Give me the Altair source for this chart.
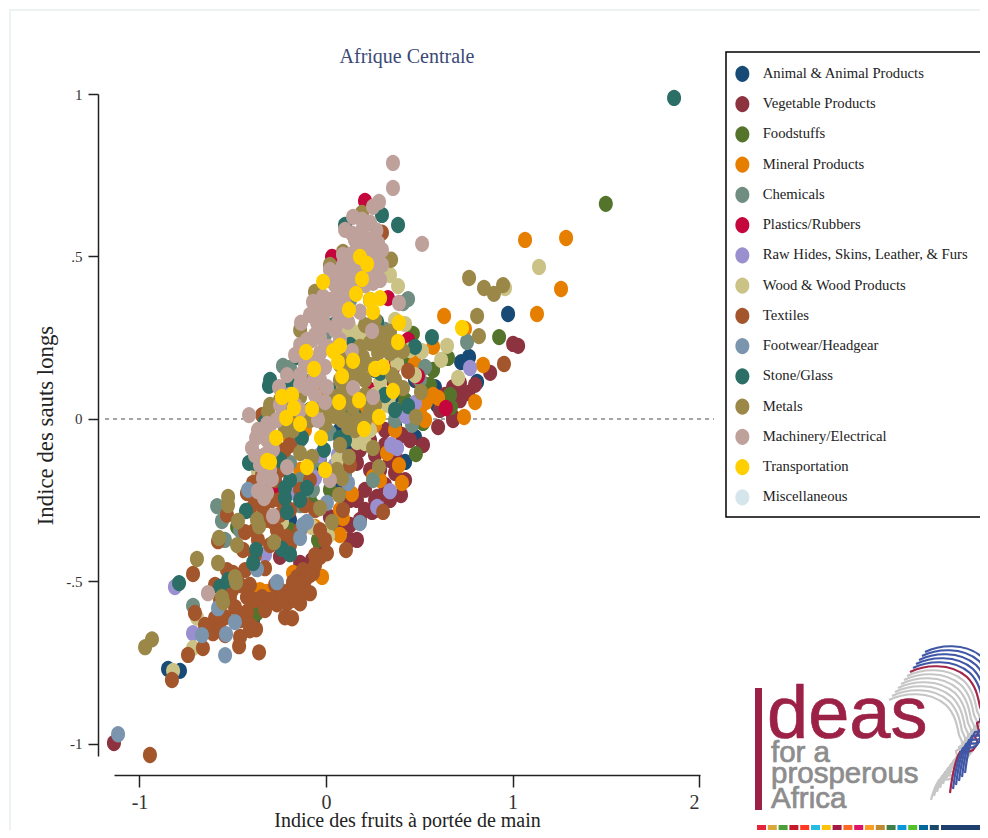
import altair as alt
import pandas as pd

CATEGORIES = ["Animal & Animal Products", "Vegetable Products", "Foodstuffs", "Mineral Products", "Chemicals",
              "Plastics/Rubbers", "Raw Hides, Skins, Leather, & Furs", "Wood & Wood Products", "Textiles",
              "Footwear/Headgear", "Stone/Glass", "Metals", "Machinery/Electrical", "Transportation", "Miscellaneous"]
COLORS = ["#184a76", "#8d323f", "#54742c", "#e67f00", "#6f8d80", "#c4063c", "#9a90d0", "#cbc285", "#a3552c",
          "#7c95ae", "#2a6e66", "#9b8849", "#bfa19b", "#ffcf00", "#d5e5ec"]

ANIMAL = [(-.847,-.769),(-.783,-.775),(-.391,-.618),(-.059,-.271),(.477,-.055),(.424,-.132),(.584,.098),(.595,.043),
          (.724,.175),(.767,.191),(.81,.114),(.976,.323),(-.139,-.003),(.075,-.034),(.247,.058),(-.30,-.157),
          (-.193,-.311),(.129,-.095),(.477,.12),(.37,-.018),(-.032,-.157),(.075,-.218),(.102,-.142),(.209,-.065),
          (.37,.074),(.263,.151)]
VEGETABLE = [(-1.137,-.997),(1.003,.231),(1.03,.225),(.88,.142),(.718,.08),(.681,.098),(.762,.08),(.681,.006),(.718,.058),
             (.718,.111),(.601,-.025),(.52,-.08),(.493,.12),(.166,-.372),(.129,-.372),(.402,-.234),(.247,-.286),(.274,-.24),
             (.166,-.135),(.37,-.166),(.407,-.049),(.681,-.003),(-.247,-.424),(-.139,-.443),(-.075,-.434),(.021,-.302),
             (.075,-.332),(.166,-.249),(.263,-.111),(.343,-.126),(.102,-.188),(.209,-.218),(.316,-.203),(.182,-.311),
             (.316,-.034),(.424,.012),(.531,.105),(.354,.12),(.29,-.28),(.236,-.157),(.129,-.249),
             (.102,-.157),(.155,-.111),(.236,-.065),(.316,-.08),(.37,-.111),(.29,-.157),(.424,-.188),(.343,-.249),
             (.209,-.28),(.129,-.326),(-.032,-.388),(.263,-.249),(.182,-.095),(.102,-.249),(.075,-.28),(.45,-.065),
             (.611,.028),(.638,.074),(.799,.105)]
FOODSTUFFS = [(1.50,.662),(.928,.252),(.654,.188),(.67,.037),(.52,-.012),(.482,-.108),(.466,.262),(.574,.151),(.359,.129),
              (-.37,-.597),(-.043,-.372),(-.477,-.332),(.038,-.348),(.665,.074),(.102,.012),(.29,.058),(.021,-.157),(.45,.181),
              (.075,-.111),(.021,-.218),(.37,.028),(.263,.074),(.424,.058),(.557,.105),(-.193,-.342),(-.086,-.249)]
MINERAL = [(1.067,.551),(1.287,.557),(1.26,.40),(1.131,.323),(.633,.317),(.745,.277),(.842,.166),(.799,.052),(.74,.006),
           (.574,.074),(.536,.052),(.601,.065),(.574,.222),(.477,.172),(.407,-.197),(.391,-.142),(.327,-.105),(-.021,-.486),
           (-.177,-.474),(-.418,-.52),(-.316,-.532),(.139,-.231),(.252,-.178),(.29,-.188),(.091,-.305),(-.059,-.332),
           (-.284,-.317),(-.257,-.52),(-.193,-.003),(-.032,.074),(-.113,-.034),(-.193,-.065),(.504,.028),(.531,-.003),
           (.182,.028),(.37,-.034),(.263,-.018),(-.139,-.157),(.075,-.28),(.075,-.357),(-.354,-.527)]
CHEMICALS = [(-.713,-.575),(-.584,-.268),(-.558,-.314),(-.231,.163),(-.193,.157),(.44,.369),(.413,.357),(.756,.237),(.531,.16),
             (.461,-.018),(.252,-.188),(-.139,-.188),(-.129,-.243),(-.07,-.218),(.021,-.043),(-.193,-.135),(.316,.274),
             (-.139,-.065),(-.032,-.126),(-.086,-.157),(-.247,-.218),(.102,-.172),(-.461,-.342),(-.542,-.372),(-.139,-.265),
             (.075,-.142),(.37,-.003),(.504,.12),(.155,.459),(-.005,.259),(.129,.366)]
PLASTICS = [(.209,.671),(.032,.499),(-.268,-.228),(.493,.132),(.643,.034),(.332,.372),(.059,.289),(.327,.234),(.44,.243),
            (.37,.166),(.236,.089)]
HIDES = [(-.81,-.517),(-.713,-.659),(-.434,-.609),(-.177,-.225),(-.059,-.182),(.064,-.111),(-.327,-.418),(.343,-.222),
         (.274,-.271),(.349,-.08),(.381,-.089),(.477,.049),(.429,.009),(.772,.157),(-.032,-.111),(.048,-.142),(-.086,-.188),
         (.075,-.08)]
WOOD = [(1.142,.468),(.96,.403),(-.82,-.775),(-.713,-.705),(-.692,-.611),(.011,-.36),(-.236,-.317),(-.365,-.163),(.064,-.126),
        (.166,-.071),(.209,-.074),(.332,.043),(-.075,-.332),(.386,.409),(.343,.443),(.139,.252),(.649,.225),(.617,.182),
        (.708,.126),(.515,.209),(.424,.292),(.29,.114),(.381,.172),(.182,.268),(.123,.289),(.075,.258),(.338,.046),
        (.263,.228),(.343,.074),(.209,.243),(.129,.212),(.075,.212),(.102,.228),(.263,.074),(.236,-.034),(.182,-.065),
        (-.032,.012),(.477,.135),(.45,.212),(.37,.305)]
TEXTILES = [(-.944,-1.034),(-.826,-.803),(-.74,-.726),(-.66,-.705),(-.606,-.659),(-.713,-.477),(-.703,-.597),(-.531,-.295),
            (-.579,-.376),(-.434,-.348),(-.424,-.228),(-.193,-.08),(-.391,-.197),(-.338,-.271),(-.209,-.363),(-.263,-.342),
            (-.445,-.403),(-.327,-.459),(-.531,-.465),(-.499,-.474),(-.515,-.548),(-.424,-.548),(-.343,-.548),(-.424,-.594),
            (-.488,-.579),(-.595,-.613),(-.541,-.61),(-.375,-.647),(-.461,-.671),(-.466,-.699),(-.359,-.718),(-.568,-.65),
            (-.461,-.619),(-.381,-.557),(-.273,-.511),(-.22,-.557),(.005,-.413),(-.032,-.425),(-.07,-.474),(-.123,-.465),
            (-.155,-.487),(-.193,-.527),(-.123,-.527),(-.086,-.536),(-.177,-.502),(-.139,-.567),(-.263,-.57),(-.209,-.567),
            (-.22,-.61),(-.182,-.613),(-.086,-.48),(-.059,-.45),(-.166,-.557),(.107,-.403),(.306,-.286),(.091,-.28),
            (.129,-.142),(.44,.148),(.954,.169),(.3,.573),(-.247,-.249),(-.193,-.28),(-.327,-.311),(-.408,-.28),(-.3,-.388),
            (-.381,-.419),(-.343,.012),(-.273,-.065),(-.343,-.172),(-.139,-.342),(-.059,-.28),(-.005,-.372),(-.434,-.465),
            (-.365,-.372),(-.247,-.157),(-.22,-.095),(-.29,-.249),(-.504,-.527),(-.595,-.511),(-.408,-.65),
            (-.113,-.496),(-.059,-.419),(-.247,-.527),(-.3,-.557),(-.408,-.511),(-.461,-.511),(-.327,-.588),(-.408,-.634),
            (-.541,-.665),(-.649,-.634),(-.568,-.557),(-.327,-.218),(-.273,-.188),(-.139,-.218),(-.113,-.265),(-.247,-.295),
            (-.381,-.249),(-.3,-.311),(-.193,-.388),(-.381,-.342),(-.086,-.188),(-.032,-.342)]
FOOTWEAR = [(-1.115,-.97),(-.263,-.502),(-.488,-.625),(-.536,-.662),(-.665,-.665),(-.541,-.727),(-.37,-.462),(-.139,-.366),
            (-.123,-.326),(-.102,-.317),(.182,-.32),(.005,-.258),(-.418,-.218),(-.579,-.582),(.118,-.197)]
STONE = [(1.866,.988),(.386,.597),(.3,.628),(-.306,.102),(.568,.252),(.477,.222),(.44,.04),(.29,.142),(.274,.299),(.038,.289),
         (-.15,.191),(-.413,-.135),(-.381,-.135),(-.429,-.283),(-.788,-.505),(-.22,-.212),(-.22,-.243),(-.209,-.286),
         (-.102,-.212),(-.375,-.403),(-.391,-.443),(-.236,-.4),(-.193,-.416),(-.568,-.517),(-.525,-.495),(-.129,-.058),
         (-.011,-.095),(.075,-.058),(-.327,-.009),(.102,.058),(-.193,-.188),(-.247,-.126),(-.139,-.249),(-.3,.12),(-.193,.105),
         (-.086,.028),(.102,-.065),(.155,.012),(.021,.089),(.316,.074),(.37,.028),(.129,.228),(.048,.443),(.102,.597),(.236,.366)]
METALS = [(.767,.434),(.847,.403),(.90,.385),(.949,.412),(.81,.317),(.82,.255),(.509,.083),(-.933,-.678),(-.97,-.702),
          (-.692,-.431),(-.579,-.443),(-.525,-.24),(-.525,-.265),(-.472,-.314),(-.574,-.366),(-.477,-.388),(-.37,-.311),
          (-.359,-.33),(-.279,-.379),(-.488,-.487),(-.482,-.502),(-.558,-.548),(-.552,-.564),(-.032,-.274),(.032,-.317),
          (.07,-.234),(.252,-.089),(.284,-.148),(-.139,-.105),(-.075,-.117),(.123,-.117),(.482,.006),(.118,-.025),(.166,-.003),
          (.048,.009),(.059,-.157),(.086,-.182),(-.177,-.034),(.193,.634),(.166,.56),(.349,.49),(-.059,.391),(-.08,.32),
          (.091,.514),(-.311,.022),(-.139,.068),(.075,.12),(.129,.151),(.198,.191),(.236,.234),(.29,.265),(.343,.268),
          (.413,.209),(.279,.203),(.343,.203),(.021,.018),(.075,.037),(.145,.037),(.113,.08),(.129,.12),(.413,.095),(.182,.222),
          (.021,.074),(-.032,.043),(.155,.074),(.209,.12),(.102,.181),(.172,.166),(.263,.259),(.316,.228),(.236,.028),
          (.129,-.018),(-.075,.12),(-.139,.135),(-.247,.058),(.086,-.003),(.209,-.003),(.075,-.08),(.354,.135),
          (.182,.135),(.236,.166),(.29,.228),(.075,.074),(.021,.043),(.102,-.003),(.155,-.034),(-.005,-.018),(-.086,-.003),
          (-.139,.012),(-.22,-.034),(-.247,-.003),(-.193,.028),(-.3,.043),(.209,.074),(.263,.043),(.37,.12),(.37,.212),
          (.263,.305),(.209,.289),(-.139,.274),(.021,.474),(.129,.058),(.075,.166)]
MACHINERY = [(.359,.788),(.359,.711),(.515,.539),(.284,.668),(.252,.653),(.145,.622),(.193,.613),(.236,.604),(.198,.588),(.198,.551),
             (.279,.542),(.3,.52),(.166,.53),(.091,.505),(.091,.474),(.021,.459),(.139,.48),(.3,.474),(.29,.428),(.252,.419),
             (.091,.428),(.021,.428),(.129,.437),(-.016,.376),(-.07,.36),(.059,.376),(.391,.357),(.182,.33),(-.005,.33),(-.134,.296),
             (-.048,.296),(.064,.296),(.118,.299),(.247,.271),(-.102,.243),(-.032,.252),(.011,.222),(.139,.209),(-.123,.203),
             (-.032,.203),(-.209,.135),(-.102,.095),(-.005,.16),(.005,.098),(-.252,.098),(.145,.095),(.252,.068),(-.005,.052),
             (-.236,.012),(-.413,.012),(-.316,-.015),(-.263,-.003),(-.375,-.058),(-.397,-.089),(-.316,-.065),(-.284,-.095),
             (-.043,-.003),(-.209,-.148),(-.338,-.182),(-.29,-.185),(-.365,-.222),(-.316,-.228),(-.332,-.243),(-.284,-.299),
             (-.633,-.536),(.021,-.188),(-.139,.228),(-.059,.259),(.048,.336),(-.166,.043),(.075,.336),(-.086,.166),(.102,.351),
             (.155,.397),(.209,.459),(-.139,.105),(-.059,.074),(-.059,.135),(-.381,-.111),(-.343,-.132),(-.3,-.018),
             (.102,.582),(.155,.551),(.129,.505),(.236,.551),(.247,.505),(.182,.474),(.048,.412),(.102,.382),(.139,.412),(.209,.412),
             (-.032,.336),(.021,.366),(-.086,.32),(.048,.274),(-.005,.289),(-.075,.243),(.075,.243),(-.043,.182),(-.113,.166),
             (-.166,.197),(-.139,.135),(-.032,.12),(-.086,.105),(-.193,.074),(-.247,.043),(-.139,.028),(-.327,-.034),(-.365,-.034),
             (-.327,-.111),(-.3,-.157),(-.354,-.142),(.263,.48),(.252,.44),(.236,.43),(.155,.47),(.06,.45),(.07,.4),(.205,.51),
             (.14,.57),(.27,.58)]
TRANSPORT = [(.182,.499),(.22,.477),(-.016,.422),(.193,.431),(.161,.385),(.236,.366),(.29,.372),(.252,.33),(.123,.336),(.391,.296),
             (.386,.237),(.075,.225),(.038,.209),(.064,.175),(.145,.179),(-.107,.206),(-.064,.154),(.086,.132),(.263,.154),(.306,.16),
             (.359,.086),(-.236,.068),(-.182,.074),(-.172,.034),(-.075,.031),(.07,.052),(.177,.058),(.284,.006),(-.214,.003),
             (-.139,-.015),(-.268,-.058),(-.027,-.058),(.204,-.031),(-.316,-.129),(-.3,-.132),(-.102,-.148),(-.005,-.157),(.729,.28)]
MISC = []

SERIES = [ANIMAL, VEGETABLE, FOODSTUFFS, MINERAL, CHEMICALS, PLASTICS, HIDES, WOOD, TEXTILES, FOOTWEAR, STONE, METALS,
          MACHINERY, TRANSPORT, MISC]
X_TICKS = [-1, 0, 1, 2]
Y_TICKS = [-1, -0.5, 0, 0.5, 1]
X_LABELS = "'' + datum.value"
Y_LABELS = "datum.value == 0.5 ? '.5' : datum.value == -0.5 ? '-.5' : '' + datum.value"

rows = [{"cat": c, "x": x, "y": y} for c, s in zip(CATEGORIES, SERIES) for x, y in s]
df = pd.DataFrame(rows)
one = pd.DataFrame({"a": [0]})

SERIF = "Liberation Serif"
ELLIPSE = ("M-1,0 C-1,-.646 -.552,-1.17 0,-1.17 C.552,-1.17 1,-.646 1,0 "
           "C1,.646 .552,1.17 0,1.17 C-.552,1.17 -1,.646 -1,0 Z")
PROFILE = ("M0,0 C14,-7 40,-10 57,5 C66,14 68,25 70,35 L75,46 L67,51 L69,60 L65,65 L68,71 L63,78 "
           "C58,81 54,79 50,80 C45,88 42,105 40,121")
PROFILE_SHORT = ("M0,0 C14,-7 40,-10 57,5 C66,14 68,25 70,35 L75,46 L67,51 L69,60 L65,65 L68,71 L63,78 "
                 "C58,81 54,79 50,80 C46,86 44,92 42,100")

x_scale = alt.Scale(domain=[-1.1367, 2.005], nice=False, zero=False)
y_scale = alt.Scale(domain=[-1.037, 1.0], nice=False, zero=False)
x_axis = alt.Axis(values=X_TICKS, title="Indice des fruits à portée de main", grid=False, offset=19, tickSize=12,
                  tickWidth=1.5, domainWidth=1.5, domainColor="#222", tickColor="#222", labelFont=SERIF, labelFontSize=20,
                  labelColor="#333", labelPadding=5, labelExpr=X_LABELS, titleFont=SERIF, titleFontSize=20,
                  titleFontWeight="normal", titleColor="#222", titlePadding=-2)
y_axis = alt.Axis(values=Y_TICKS, title="Indice des sauts longs", grid=False, offset=16, tickSize=10, tickWidth=1.5,
                  domainWidth=1.5, domainColor="#222", tickColor="#222", labelFont=SERIF, labelFontSize=15,
                  labelColor="#333", labelPadding=6, labelExpr=Y_LABELS, titleFont=SERIF, titleFontSize=22.8,
                  titleFontWeight="normal", titleColor="#222", titlePadding=8)

# plot origin in page pixels: (114, 94)
def vrule(x, y1, y2, color, w):
    return alt.Chart(one).mark_rule(color=color, strokeWidth=w).encode(x=alt.value(x), y=alt.value(y1), y2=alt.value(y2))

def hrule(y, x1, x2, color, w):
    return alt.Chart(one).mark_rule(color=color, strokeWidth=w).encode(y=alt.value(y), x=alt.value(x1), x2=alt.value(x2))

frame = [hrule(-84, -105, 880, "#edf2f3", 2), vrule(-104, -84, 740, "#edf2f3", 2)]

title_text = alt.Chart(one).mark_text(text="Afrique Centrale", font=SERIF, fontSize=20, color="#3b4a75", align="center",
                                      baseline="alphabetic").encode(x=alt.value(293), y=alt.value(-31))

zero_line = alt.Chart(one).mark_rule(color="#888", strokeWidth=1.5, strokeDash=[4, 4]).encode(
    y=alt.Y(datum=0, scale=y_scale, axis=y_axis), x=alt.value(-9), x2=alt.value(600))

legend_box = alt.Chart(one).mark_rect(fill="white", stroke="black", strokeWidth=1.5).encode(
    x=alt.value(612), x2=alt.value(900), y=alt.value(-42), y2=alt.value(423))

points = alt.Chart(df).mark_point(filled=True, opacity=1, size=196, shape=ELLIPSE, strokeWidth=0).encode(
    x=alt.X("x:Q", scale=x_scale, axis=x_axis),
    y=alt.Y("y:Q", scale=y_scale, axis=y_axis),
    color=alt.Color("cat:N", scale=alt.Scale(domain=CATEGORIES, range=COLORS), sort=CATEGORIES,
                    legend=alt.Legend(title=None, orient="none", legendX=621, legendY=-27.5, padding=0,
                                      symbolType=ELLIPSE, symbolSize=196, symbolStrokeWidth=0, symbolOpacity=1,
                                      labelFont=SERIF, labelFontSize=14.7, labelColor="#222", labelOffset=13,
                                      labelLimit=300, rowPadding=13.25, values=CATEGORIES)),
)

# logo
SDG = ["#e5243b", "#dda63a", "#4c9f38", "#c5192d", "#ff3a21", "#26bde2", "#fcc30b", "#a21942", "#fd6925", "#dd1367",
       "#fd9d24", "#bf8b2e", "#3f7e44", "#0a97d9", "#56c02b", "#00689d", "#19486a"]
logo = []
for k in range(-7, 6):
    color = "#a3254a" if k == 0 else ("#c6c6c6" if k < 0 else "#3f57a6")
    logo.append(alt.Chart(one).mark_point(shape=PROFILE_SHORT if k < 0 else PROFILE, size=4, filled=False, opacity=1,
                                          strokeWidth=2.2, color=color).encode(
        x=alt.value(796 + k * 3), y=alt.value(578 - k * 4)))
logo.append(alt.Chart(one).mark_rect(color="#9b2146").encode(x=alt.value(641), x2=alt.value(648), y=alt.value(594), y2=alt.value(716)))
for txt, px, py, sz, col in [("deas", 653, 644, 74, "#9b2146"), ("for a", 657, 668, 29.5, "#8d8d8d"),
                             ("prosperous", 657, 689, 29.5, "#8d8d8d"), ("Africa", 657, 714, 29.5, "#8d8d8d")]:
    logo.append(alt.Chart(one).mark_text(text=txt, font="Liberation Sans", fontSize=sz, color=col, align="left",
                                         baseline="alphabetic", stroke=col, strokeWidth=0.7).encode(x=alt.value(px), y=alt.value(py)))
for i, c in enumerate(SDG):
    logo.append(alt.Chart(one).mark_rect(color=c).encode(x=alt.value(643 + i * 10.8), x2=alt.value(652 + i * 10.8),
                                                         y=alt.value(731), y2=alt.value(741)))
logo.append(alt.Chart(one).mark_rect(color="#1f3f6e").encode(x=alt.value(827), x2=alt.value(880), y=alt.value(731), y2=alt.value(741)))

chart = alt.layer(*frame, title_text, zero_line, *logo, legend_box, points).properties(
    width=586, height=662,
    padding={"left": 106, "top": 86, "right": 280, "bottom": 74},
    autosize=alt.AutoSizeParams(type="none"),
).configure_view(stroke=None)

chart.save("out.html", embed_options={"renderer": "svg", "actions": False})
